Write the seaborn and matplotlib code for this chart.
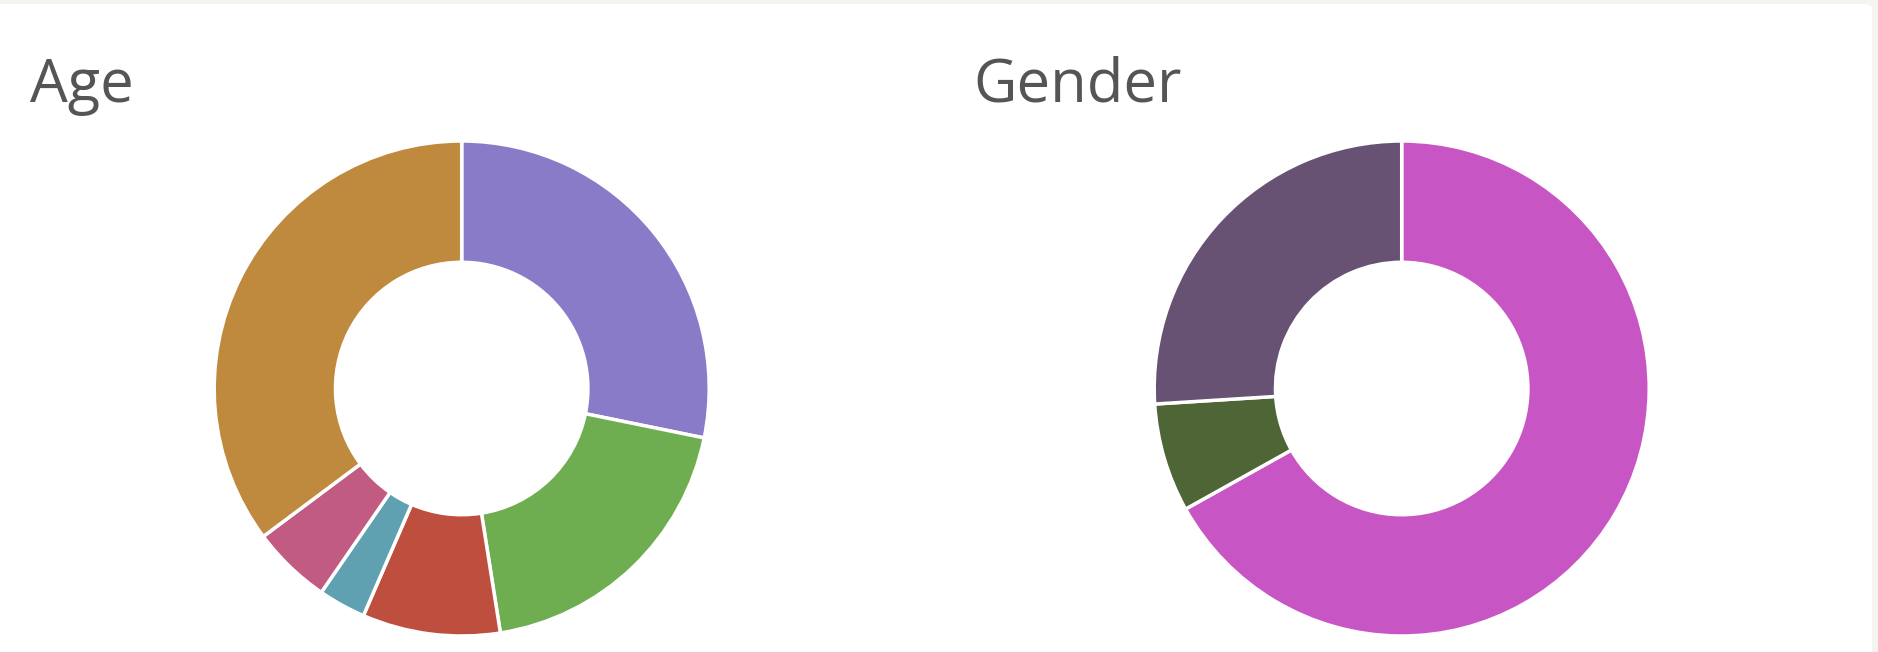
import matplotlib
matplotlib.use('Agg')
import matplotlib.pyplot as plt
import seaborn as sns
from matplotlib.patches import FancyBboxPatch

# Values (share of respondents, %)
age_labels = ['25-34', '35-44', '45-54', '55-64', '65+', '18-24']
age_values = [28.2, 19.3, 9.0, 3.1, 5.2, 35.2]
age_colors = ['#8a7bc8', '#6fae50', '#be4f3f', '#5fa1b0', '#c25b82', '#bf8a3e']

gender_labels = ['Female', 'Other', 'Male']
gender_values = [66.9, 7.1, 26.0]
gender_colors = ['#c855c4', '#4e6536', '#685274']

sns.set_theme(style='white')
plt.rcParams['font.family'] = ['Open Sans', 'DejaVu Sans']

W, H = 1878, 652
fig = plt.figure(figsize=(W / 100, H / 100), dpi=100)
fig.patch.set_facecolor('#f5f4f0')

# white card behind both charts (only the top right corner is visible as rounded)
card = FancyBboxPatch((-0.02, -0.1), (1872 / W) + 0.02, (648 / H) + 0.1,
                      boxstyle='round,pad=0,rounding_size=0.006',
                      transform=fig.transFigure, facecolor='white', edgecolor='none', zorder=-5)
fig.patches.append(card)


def donut(cx, cy, r, values, colors, labels):
    lim = 1.05
    size = 2 * r * lim
    ax = fig.add_axes([(cx - size / 2) / W, (H - cy - size / 2) / H, size / W, size / H])
    ax.set_zorder(2)
    ax.patch.set_alpha(0)
    ax.pie(values, labels=None, colors=colors, startangle=90, counterclock=False,
           radius=1, wedgeprops=dict(width=0.49, edgecolor='white', linewidth=2.5))
    ax.set_xlim(-lim, lim)
    ax.set_ylim(-lim, lim)
    ax.set_aspect('equal')
    ax.axis('off')
    return ax


donut(461.7, 388.5, 247.5, age_values, age_colors, age_labels)
donut(1401.7, 388.5, 247.5, gender_values, gender_colors, gender_labels)

fig.text(30 / W, 1 - 102 / H, 'Age', fontsize=43, color='#555555', va='baseline', ha='left')
fig.text(973 / W, 1 - 102 / H, 'Gender', fontsize=43, color='#555555', va='baseline', ha='left')

fig.savefig('out.png', dpi=100, facecolor=fig.get_facecolor())
